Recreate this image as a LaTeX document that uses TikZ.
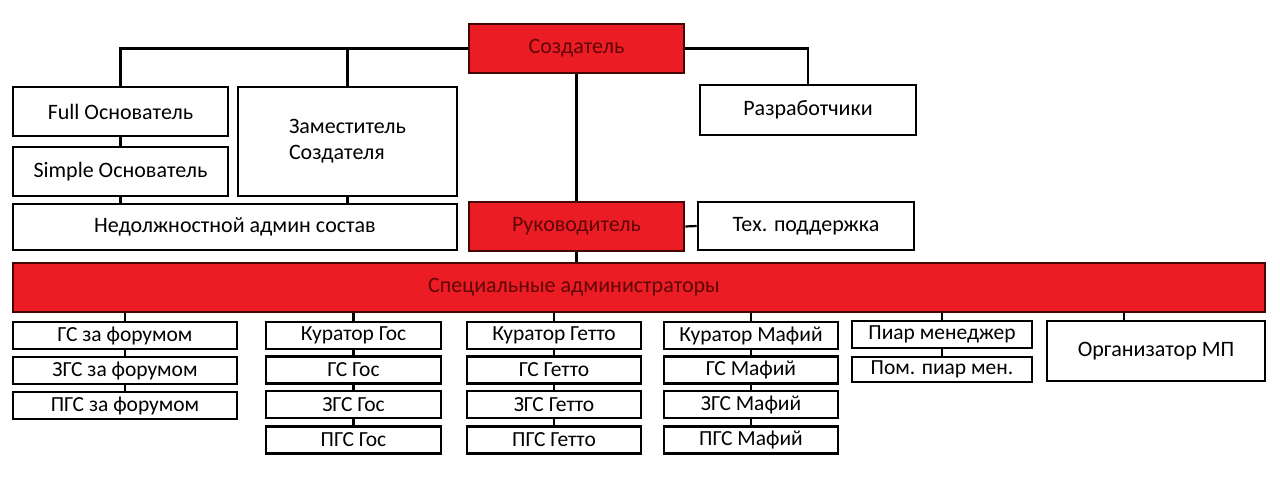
\documentclass[tikz,border=0pt]{standalone}
\usepackage{fontspec}
\setmainfont{Carlito}
\definecolor{boxred}{RGB}{236,28,36}
\definecolor{redtext}{RGB}{95,6,6}
\definecolor{redborder}{RGB}{70,5,5}

\begin{document}
\begin{tikzpicture}[x=1pt, y=-1pt,
  box/.style={draw=black, line width=2.6pt, fill=white, inner sep=2pt, font=\fontsize{22}{26}\selectfont},
  redbox/.style={box, draw=redborder, fill=boxred, text=redtext},
  small/.style={box, minimum height=27pt, font=\fontsize{21.5}{24}\selectfont},
  line/.style={draw=black, line width=2.2pt}]

\useasboundingbox (0,0) rectangle (1280,490);

% Top level
\node[redbox, minimum width=215pt, minimum height=49pt] (creator) at (576.5,48.5) {Создатель};
\node[box, minimum width=215pt, minimum height=49pt] (full) at (120.5,111.5) {Full Основатель};
\node[box, minimum width=215pt, minimum height=49pt] (simple) at (120.5,171.5) {Simple Основатель};
\node[box, minimum width=219pt, minimum height=109pt, align=left] (deputy) at (347.5,141.5) {Заместитель\\Создателя};
\node[box, minimum width=444pt, minimum height=46pt] (nonstaff) at (235,227) {Недолжностной админ состав};
\node[box, minimum width=216pt, minimum height=50pt] (devs) at (808,110) {Разработчики};
\node[redbox, minimum width=215pt, minimum height=49pt] (head) at (576.5,226.5) {Руководитель};
\node[box, minimum width=216pt, minimum height=48pt] (support) at (806,226) {Тех. поддержка};

% Special admins bar
\node[redbox, minimum width=1252pt, minimum height=49pt,
  label={[xshift=-65pt, text=redtext, font=\fontsize{22}{26}\selectfont]center:Специальные администраторы}] (special) at (639,287.5) {};

% Forum column
\node[small, minimum width=224pt] (gsf) at (125,335.5) {ГС за форумом};
\node[small, minimum width=224pt] (zgsf) at (125,370.5) {ЗГС за форумом};
\node[small, minimum width=224pt] (pgsf) at (125,405.5) {ПГС за форумом};

% State column
\node[small, minimum width=175pt] (kgos) at (353.5,335.5) {Куратор Гос};
\node[small, minimum width=175pt] (gsgos) at (353.5,370) {ГС Гос};
\node[small, minimum width=175pt] (zgsgos) at (353.5,404.5) {ЗГС Гос};
\node[small, minimum width=175pt] (pgsgos) at (353.5,440) {ПГС Гос};

% Ghetto column
\node[small, minimum width=174pt] (kghetto) at (554,335.5) {Куратор Гетто};
\node[small, minimum width=174pt] (gsghetto) at (554,370) {ГС Гетто};
\node[small, minimum width=174pt] (zgsghetto) at (554,404.5) {ЗГС Гетто};
\node[small, minimum width=174pt] (pgsghetto) at (554,440) {ПГС Гетто};

% Mafia column
\node[small, minimum width=174pt] (kmafia) at (751,335.5) {Куратор Мафий};
\node[small, minimum width=174pt] (gsmafia) at (751,370) {ГС Мафий};
\node[small, minimum width=174pt] (zgsmafia) at (751,404.5) {ЗГС Мафий};
\node[small, minimum width=174pt] (pgsmafia) at (751,440) {ПГС Мафий};

% PR and events
\node[small, minimum width=180pt] (pr) at (942,334.5) {Пиар менеджер};
\node[small, minimum width=180pt, minimum height=25pt] (prhelp) at (942,369.5) {Пом. пиар мен.};
\node[box, minimum width=218pt, minimum height=60pt] (events) at (1156,351) {Организатор МП};

% Connectors, upper part
\draw[line] (creator.west) -| (full.north);
\draw[line] (creator.west -| deputy.north) -- (deputy.north);
\draw[line] (creator.east) -| (devs.north);
\draw[line] (creator.south) -- (head.north);
\draw[line] (full.south) -- (simple.north);
\draw[line] (simple.south) -- (simple.south |- nonstaff.north);
\draw[line] (deputy.south) -- (deputy.south |- nonstaff.north);
\draw[line] (head.east) -- (support.west);
\draw[line] (head.south) -- (head.south |- special.north);

% Connectors, lower part
\foreach \top in {gsf, kgos, kghetto, kmafia, pr}
  \draw[line] (\top.north |- special.south) -- (\top.north);
\draw[line] ([xshift=-32pt]events.north) -- ([xshift=-32pt]events.north |- special.south);
\draw[line] (gsf) -- (zgsf) -- (pgsf);
\draw[line] (kgos) -- (gsgos) -- (zgsgos) -- (pgsgos);
\draw[line] (kghetto) -- (gsghetto) -- (zgsghetto) -- (pgsghetto);
\draw[line] (kmafia) -- (gsmafia) -- (zgsmafia) -- (pgsmafia);
\draw[line] (pr) -- (prhelp);

\end{tikzpicture}
\end{document}
